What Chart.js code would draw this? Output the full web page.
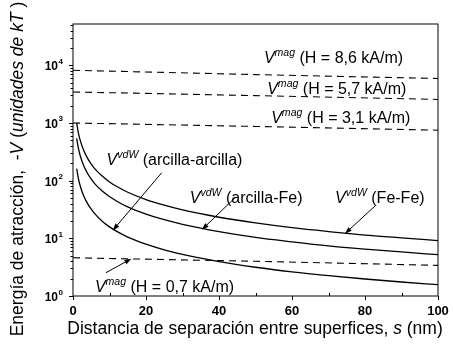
<!DOCTYPE html>
<html>
<head>
<meta charset="utf-8">
<script src="https://cdn.jsdelivr.net/npm/chart.js@4/dist/chart.umd.min.js"></script>
<style>
body { margin: 0; background: #fff; }
</style>
</head>
<body>
<canvas id="chart1" width="453" height="345"></canvas>
<script>
// separation distance s (nm) for the van der Waals curves
var distance = [1, 1.5, 2, 3, 4, 5, 6, 8, 10, 12, 15, 20, 25, 30, 40, 50, 60, 70, 80, 90, 100];
var vdwFeFe = [1000, 660, 495, 326, 243, 194, 160, 120, 95, 79, 63, 47, 37.5, 31, 23.2, 18.5, 15.3, 13.1, 11.4, 10.2, 9.1];
var vdwArcillaFe = [540, 360, 268, 178, 133, 106, 88, 66, 53, 44, 35, 26.3, 21, 17.5, 13.1, 10.4, 8.7, 7.4, 6.5, 5.8, 5.2];
var vdwArcillaArcilla = [162, 107, 80, 53, 40, 32, 26.5, 19.8, 15.8, 13.2, 10.5, 7.9, 6.3, 5.25, 3.95, 3.15, 2.62, 2.25, 1.97, 1.75, 1.57];

// magnetic attraction (dashed lines)
var magDistance = [0, 50, 100];
var mag86 = [8200, 6900, 5900];
var mag57 = [3450, 2980, 2560];
var mag31 = [1000, 870, 750];
var mag07 = [4.6, 4.0, 3.4];

var xTickLabels = [0, 20, 40, 60, 80, 100];
var yTickExponents = [0, 1, 2, 3, 4];

var FONT = '"Liberation Sans", Arial, sans-serif';

function pts(xs, ys) {
	return xs.map(function (x, i) { return { x: x, y: ys[i] }; });
}

function V(sup) {
	return [{ t: 'V', italic: true }, { t: sup, italic: true, sup: true }];
}

// annotation texts, placed in data units (x = s, y = -V)
var labels = [
	{ x: 52.3, y: 11000, parts: V('mag').concat([{ t: ' (H = 8,6 kA/m)' }]) },
	{ x: 53.2, y: 3200, parts: V('mag').concat([{ t: ' (H = 5,7 kA/m)' }]) },
	{ x: 54.3, y: 1010, parts: V('mag').concat([{ t: ' (H = 3,1 kA/m)' }]) },
	{ x: 9.2, y: 189, parts: V('vdW').concat([{ t: ' (arcilla-arcilla)' }]) },
	{ x: 32, y: 41.4, parts: V('vdW').concat([{ t: ' (arcilla-Fe)' }]) },
	{ x: 71.8, y: 41.4, parts: V('vdW').concat([{ t: ' (Fe-Fe)' }]) },
	{ x: 6, y: 1.19, parts: V('mag').concat([{ t: ' (H = 0,7 kA/m)' }]) }
];
var arrows = [
	{ x1: 24.3, y1: 137, x2: 10.9, y2: 13.7 },
	{ x1: 44.4, y1: 50.6, x2: 35.3, y2: 14.1 },
	{ x1: 82.8, y1: 36.7, x2: 74.5, y2: 12.0 },
	{ x1: 9.0, y1: 2.53, x2: 16.0, y2: 4.43 }
];

function setFont(ctx, p, size) {
	var s = p.sup ? size * 0.66 : size;
	ctx.font = (p.italic ? 'italic ' : '') + (p.bold ? 'bold ' : '') + s + 'px ' + FONT;
}
function richWidth(ctx, parts, size) {
	var w = 0;
	parts.forEach(function (p) { setFont(ctx, p, size); w += ctx.measureText(p.t).width; });
	return w;
}
function drawRich(ctx, x, y, parts, size) {
	parts.forEach(function (p) {
		setFont(ctx, p, size);
		ctx.fillText(p.t, x, y - (p.sup ? size * 0.42 : 0));
		x += ctx.measureText(p.t).width;
	});
}

var decor = {
	id: 'decor',
	afterDraw: function (chart) {
		var ctx = chart.ctx;
		var a = chart.chartArea;
		var xs = chart.scales.x, ys = chart.scales.y;
		ctx.save();
		ctx.strokeStyle = '#000';
		ctx.fillStyle = '#000';
		ctx.lineWidth = 1;
		ctx.strokeRect(a.left, a.top, a.right - a.left, a.bottom - a.top);

		// y ticks (log, minor at 2..9)
		ctx.beginPath();
		for (var k = 0; k <= 4; k++) {
			for (var m = 1; m <= 9; m++) {
				var v = m * Math.pow(10, k);
				if (v > ys.max) break;
				var py = Math.round(ys.getPixelForValue(v)) + 0.5;
				var len = m == 1 ? 4 : 2.5;
				ctx.moveTo(a.left - len, py);
				ctx.lineTo(a.left, py);
			}
		}
		// x ticks
		for (var s = 0; s <= 100; s += 10) {
			var px = Math.round(xs.getPixelForValue(s)) + 0.5;
			if (s % 20 == 0) { ctx.moveTo(px, a.bottom); ctx.lineTo(px, a.bottom + 4); }
			else { ctx.moveTo(px, a.bottom); ctx.lineTo(px, a.bottom - 3); }
		}
		ctx.stroke();

		// tick labels
		ctx.textBaseline = 'alphabetic';
		ctx.textAlign = 'center';
		ctx.font = 'bold 13px ' + FONT;
		xTickLabels.forEach(function (t) {
			ctx.fillText(String(t), xs.getPixelForValue(t), a.bottom + 19);
		});
		yTickExponents.forEach(function (e) {
			var py = ys.getPixelForValue(Math.pow(10, e));
			ctx.font = 'bold 12px ' + FONT;
			ctx.textAlign = 'right';
			ctx.fillText('10', 58, py + 5);
			ctx.font = 'bold 8px ' + FONT;
			ctx.textAlign = 'left';
			ctx.fillText(String(e), 58.5, py - 1.5);
		});
		ctx.textAlign = 'left';

		// annotations
		labels.forEach(function (l) {
			drawRich(ctx, xs.getPixelForValue(l.x), ys.getPixelForValue(l.y), l.parts, 16);
		});
		arrows.forEach(function (r) {
			var x1 = xs.getPixelForValue(r.x1), y1 = ys.getPixelForValue(r.y1);
			var x2 = xs.getPixelForValue(r.x2), y2 = ys.getPixelForValue(r.y2);
			var ang = Math.atan2(y2 - y1, x2 - x1);
			ctx.beginPath();
			ctx.moveTo(x1, y1);
			ctx.lineTo(x2 - 5 * Math.cos(ang), y2 - 5 * Math.sin(ang));
			ctx.stroke();
			ctx.beginPath();
			ctx.moveTo(x2, y2);
			ctx.lineTo(x2 - 7 * Math.cos(ang) + 2.5 * Math.sin(ang), y2 - 7 * Math.sin(ang) - 2.5 * Math.cos(ang));
			ctx.lineTo(x2 - 7 * Math.cos(ang) - 2.5 * Math.sin(ang), y2 - 7 * Math.sin(ang) + 2.5 * Math.cos(ang));
			ctx.closePath();
			ctx.fill();
		});

		// axis titles
		var xt = [{ t: 'Distancia de separación entre superfices, ' }, { t: 's', italic: true }, { t: ' (nm)' }];
		var w = richWidth(ctx, xt, 17.5);
		drawRich(ctx, 255 - w / 2, 334, xt, 17.5);

		var yt = [{ t: 'Energía de atracción,  -' }, { t: 'V', italic: true }, { t: ' (' },
			{ t: 'unidades de kT', italic: true }, { t: ' )' }];
		w = richWidth(ctx, yt, 17.5);
		ctx.translate(23, 169);
		ctx.rotate(-Math.PI / 2);
		drawRich(ctx, -w / 2, 0, yt, 17.5);
		ctx.restore();
	}
};

function solid(d) {
	return { data: d, borderColor: '#000', borderWidth: 1.3, pointRadius: 0, fill: false, cubicInterpolationMode: 'monotone' };
}
function dashed(d) {
	return { data: d, borderColor: '#000', borderWidth: 1.1, borderDash: [7, 5], pointRadius: 0, fill: false };
}

var ctx = document.getElementById('chart1').getContext('2d');
var chart = new Chart(ctx, {
	type: 'line',
	data: {
		datasets: [
			dashed(pts(magDistance, mag86)),
			dashed(pts(magDistance, mag57)),
			dashed(pts(magDistance, mag31)),
			dashed(pts(magDistance, mag07)),
			solid(pts(distance, vdwFeFe)),
			solid(pts(distance, vdwArcillaFe)),
			solid(pts(distance, vdwArcillaArcilla))
		]
	},
	options: {
		responsive: false,
		animation: false,
		layout: { padding: { left: 0, right: 15, top: 24, bottom: 0 } },
		plugins: { legend: { display: false }, tooltip: { enabled: false } },
		scales: {
			x: {
				type: 'linear', min: 0, max: 100,
				grid: { display: false, drawTicks: false },
				border: { display: false },
				ticks: { display: false, stepSize: 10 },
				afterFit: function (s) { s.height = 49; }
			},
			y: {
				type: 'logarithmic', min: 1, max: 52000,
				grid: { display: false, drawTicks: false },
				border: { display: false },
				ticks: { display: false },
				afterFit: function (s) { s.width = 73; }
			}
		}
	},
	plugins: [decor]
});
</script>
</body>
</html>
